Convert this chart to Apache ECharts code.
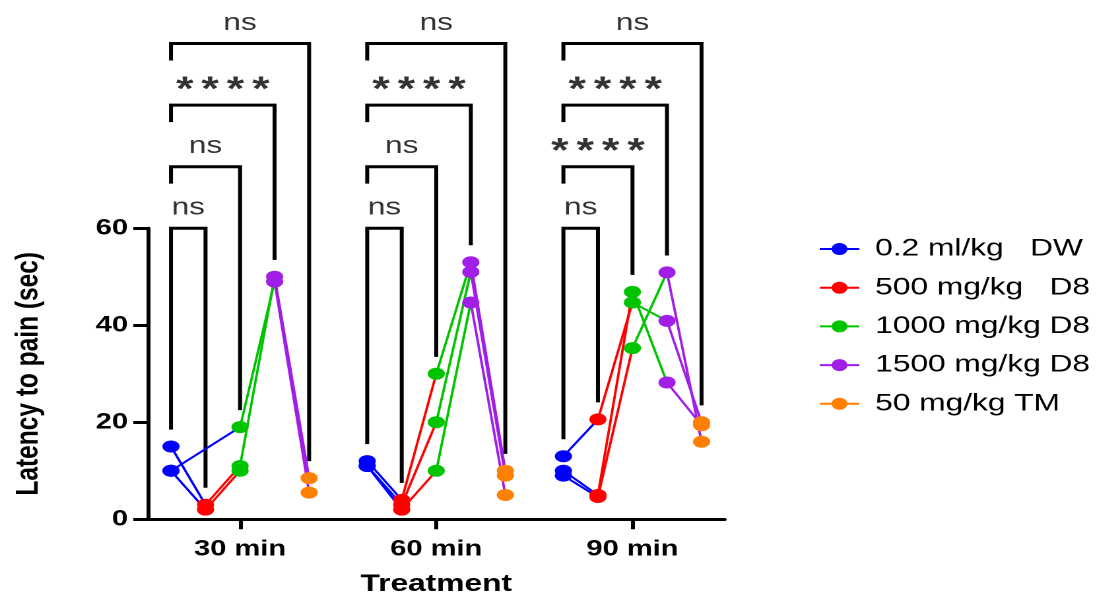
<!DOCTYPE html>
<html><head><meta charset="utf-8">
<script src="https://cdn.jsdelivr.net/npm/echarts@6/dist/echarts.min.js"></script>
<style>
html,body{margin:0;padding:0;background:#fff;overflow:hidden;width:1097px;height:594px}
#chart{position:absolute;left:0;top:0;width:831px;height:594px;transform:scaleX(1.32);transform-origin:0 0}
</style>
</head><body><div id="chart"></div>
<script>
// ---------- data ----------
const timeLabels = ['30 min', '60 min', '90 min'];
const groupNames = ['0.2 ml/kg   DW', '500 mg/kg   D8', '1000 mg/kg D8', '1500 mg/kg D8', '50 mg/kg TM'];
// one row per animal across the five groups (null = no value on that connecting line)
const reps30 = [[15, 3, 11, 50, 8.5], [10, 2, 10, null, null], [10, null, 19, 49, 5.5]];
const reps60 = [[12, 4, 30, 53, 10], [11, 3, 20, 51, 9], [11, 2, 10, 44.7, 5]];
const reps90 = [[13, 20.6, 44.7, 40.9, 20], [10, 5, 46.9, 28.2, 19.4], [9, 4.6, 35.3, 50.9, 16]];
const yTicks = [0, 20, 40, 60];
const bracketLevels = [60, 72.7, 85.4, 98.1];   // DW vs 500, 1000, 1500, TM
const sig30 = ['ns', 'ns', '****', 'ns'];
const sig60 = ['ns', 'ns', '****', 'ns'];
const sig90 = ['ns', '****', '****', 'ns'];

// ---------- style ----------
const colors = ['#0000ff', '#ff0000', '#00c400', '#a01ee6', '#ff8000'];
const groupStep = 0.176;
const legGap = 3.5, stub = 3.5;
const FONT = 'Liberation Sans, Arial, sans-serif';

const repsByTime = [reps30, reps60, reps90];
const sigByTime = [sig30, sig60, sig90];
const xOf = (t, g) => t + (g - 2) * groupStep;

const series = [];
// points per group
groupNames.forEach((name, g) => {
  const data = [];
  repsByTime.forEach((reps, t) => reps.forEach(r => { if (r[g] != null) data.push([xOf(t, g), r[g]]); }));
  series.push({
    type: 'line', name, data, symbol: 'circle', symbolSize: [13, 12],
    itemStyle: { color: colors[g] }, lineStyle: { color: colors[g], width: 0 },
    z: 5, silent: true
  });
});
// connecting segments, coloured by the starting group
repsByTime.forEach((reps, t) => reps.forEach(r => {
  let prev = null;
  r.forEach((v, g) => {
    if (v == null) return;
    if (prev != null) {
      series.push({
        type: 'line', data: [[xOf(t, prev), r[prev]], [xOf(t, g), v]], symbol: 'none',
        lineStyle: { color: colors[prev], width: 1.9 }, z: 3, silent: true
      });
    }
    prev = g;
  });
}));
// significance brackets
const labelData = [];
repsByTime.forEach((reps, t) => {
  const maxOf = g => Math.max(...reps.map(r => r[g]).filter(v => v != null));
  for (let k = 1; k <= 4; k++) {
    const lvl = bracketLevels[k - 1];
    const leftBottom = k === 1 ? maxOf(0) + legGap : lvl - stub;
    const rightBottom = maxOf(k) + legGap;
    series.push({
      type: 'line', clip: false, symbol: 'none', silent: true, z: 2,
      data: [[xOf(t, 0), leftBottom], [xOf(t, 0), lvl], [xOf(t, k), lvl], [xOf(t, k), rightBottom]],
      lineStyle: { color: '#000', width: 3, join: 'miter' }
    });
    const txt = sigByTime[t][k - 1];
    labelData.push([(xOf(t, 0) + xOf(t, k)) / 2, lvl + (txt === 'ns' ? 4.2 : 3.0), txt]);
  }
});
series.push({
  type: 'scatter', clip: false, silent: true, z: 6, symbolSize: 1,
  itemStyle: { color: 'transparent' },
  data: labelData,
  label: {
    show: true, position: 'inside', color: '#000',
    formatter: p => p.value[2] === 'ns' ? '{ns|ns}' : '{st|*}{st|*}{st|*}{st|*}',
    rich: {
      ns: { fontFamily: FONT, fontSize: 24, color: '#000' },
      st: { fontFamily: FONT, fontSize: 34, fontWeight: 'bold', color: '#000', padding: [0, 3, 0, 3] }
    }
  }
});

const chart = echarts.init(document.getElementById('chart'), null, { devicePixelRatio: 2 });
chart.setOption({
  animation: false,
  backgroundColor: '#fff',
  grid: { left: 112, top: 228.3, width: 437, height: 291, outerBoundsMode: 'none' },
  legend: {
    data: groupNames, orient: 'vertical', left: 615, top: 232,
    itemWidth: 30, itemHeight: 15, itemGap: 14.7,
    lineStyle: { width: 2 },
    textStyle: { fontFamily: FONT, fontSize: 24, color: '#000', lineHeight: 24, padding: [0, 0, 0, 7] },
    selectedMode: false
  },
  xAxis: {
    type: 'value', min: -0.47, max: 2.47,
    splitLine: { show: false },
    axisLine: { show: true, onZero: false, lineStyle: { color: '#000', width: 3 } },
    axisTick: { show: true, customValues: [0, 1, 2], length: 10, lineStyle: { color: '#000', width: 3 } },
    axisLabel: { customValues: [0, 1, 2], formatter: v => timeLabels[Math.round(v)], fontFamily: FONT, fontWeight: 'bold', fontSize: 22, color: '#000', margin: 19 },
    name: 'Treatment', nameLocation: 'middle', nameGap: 53,
    nameTextStyle: { fontFamily: FONT, fontWeight: 'bold', fontSize: 24, color: '#000' }
  },
  yAxis: {
    type: 'value', min: yTicks[0], max: yTicks[yTicks.length - 1], interval: 20,
    splitLine: { show: false },
    axisLine: { show: true, onZero: false, lineStyle: { color: '#000', width: 3 } },
    axisTick: { show: true, length: 11, lineStyle: { color: '#000', width: 3 } },
    axisLabel: { fontFamily: FONT, fontWeight: 'bold', fontSize: 22, color: '#000', margin: 15 },
    name: 'Latency to pain (sec)', nameLocation: 'middle', nameRotate: 90, nameGap: 78,
    nameTextStyle: { fontFamily: FONT, fontWeight: 'bold', fontSize: 24.5, color: '#000' }
  },
  series
});
</script>
</body></html>
